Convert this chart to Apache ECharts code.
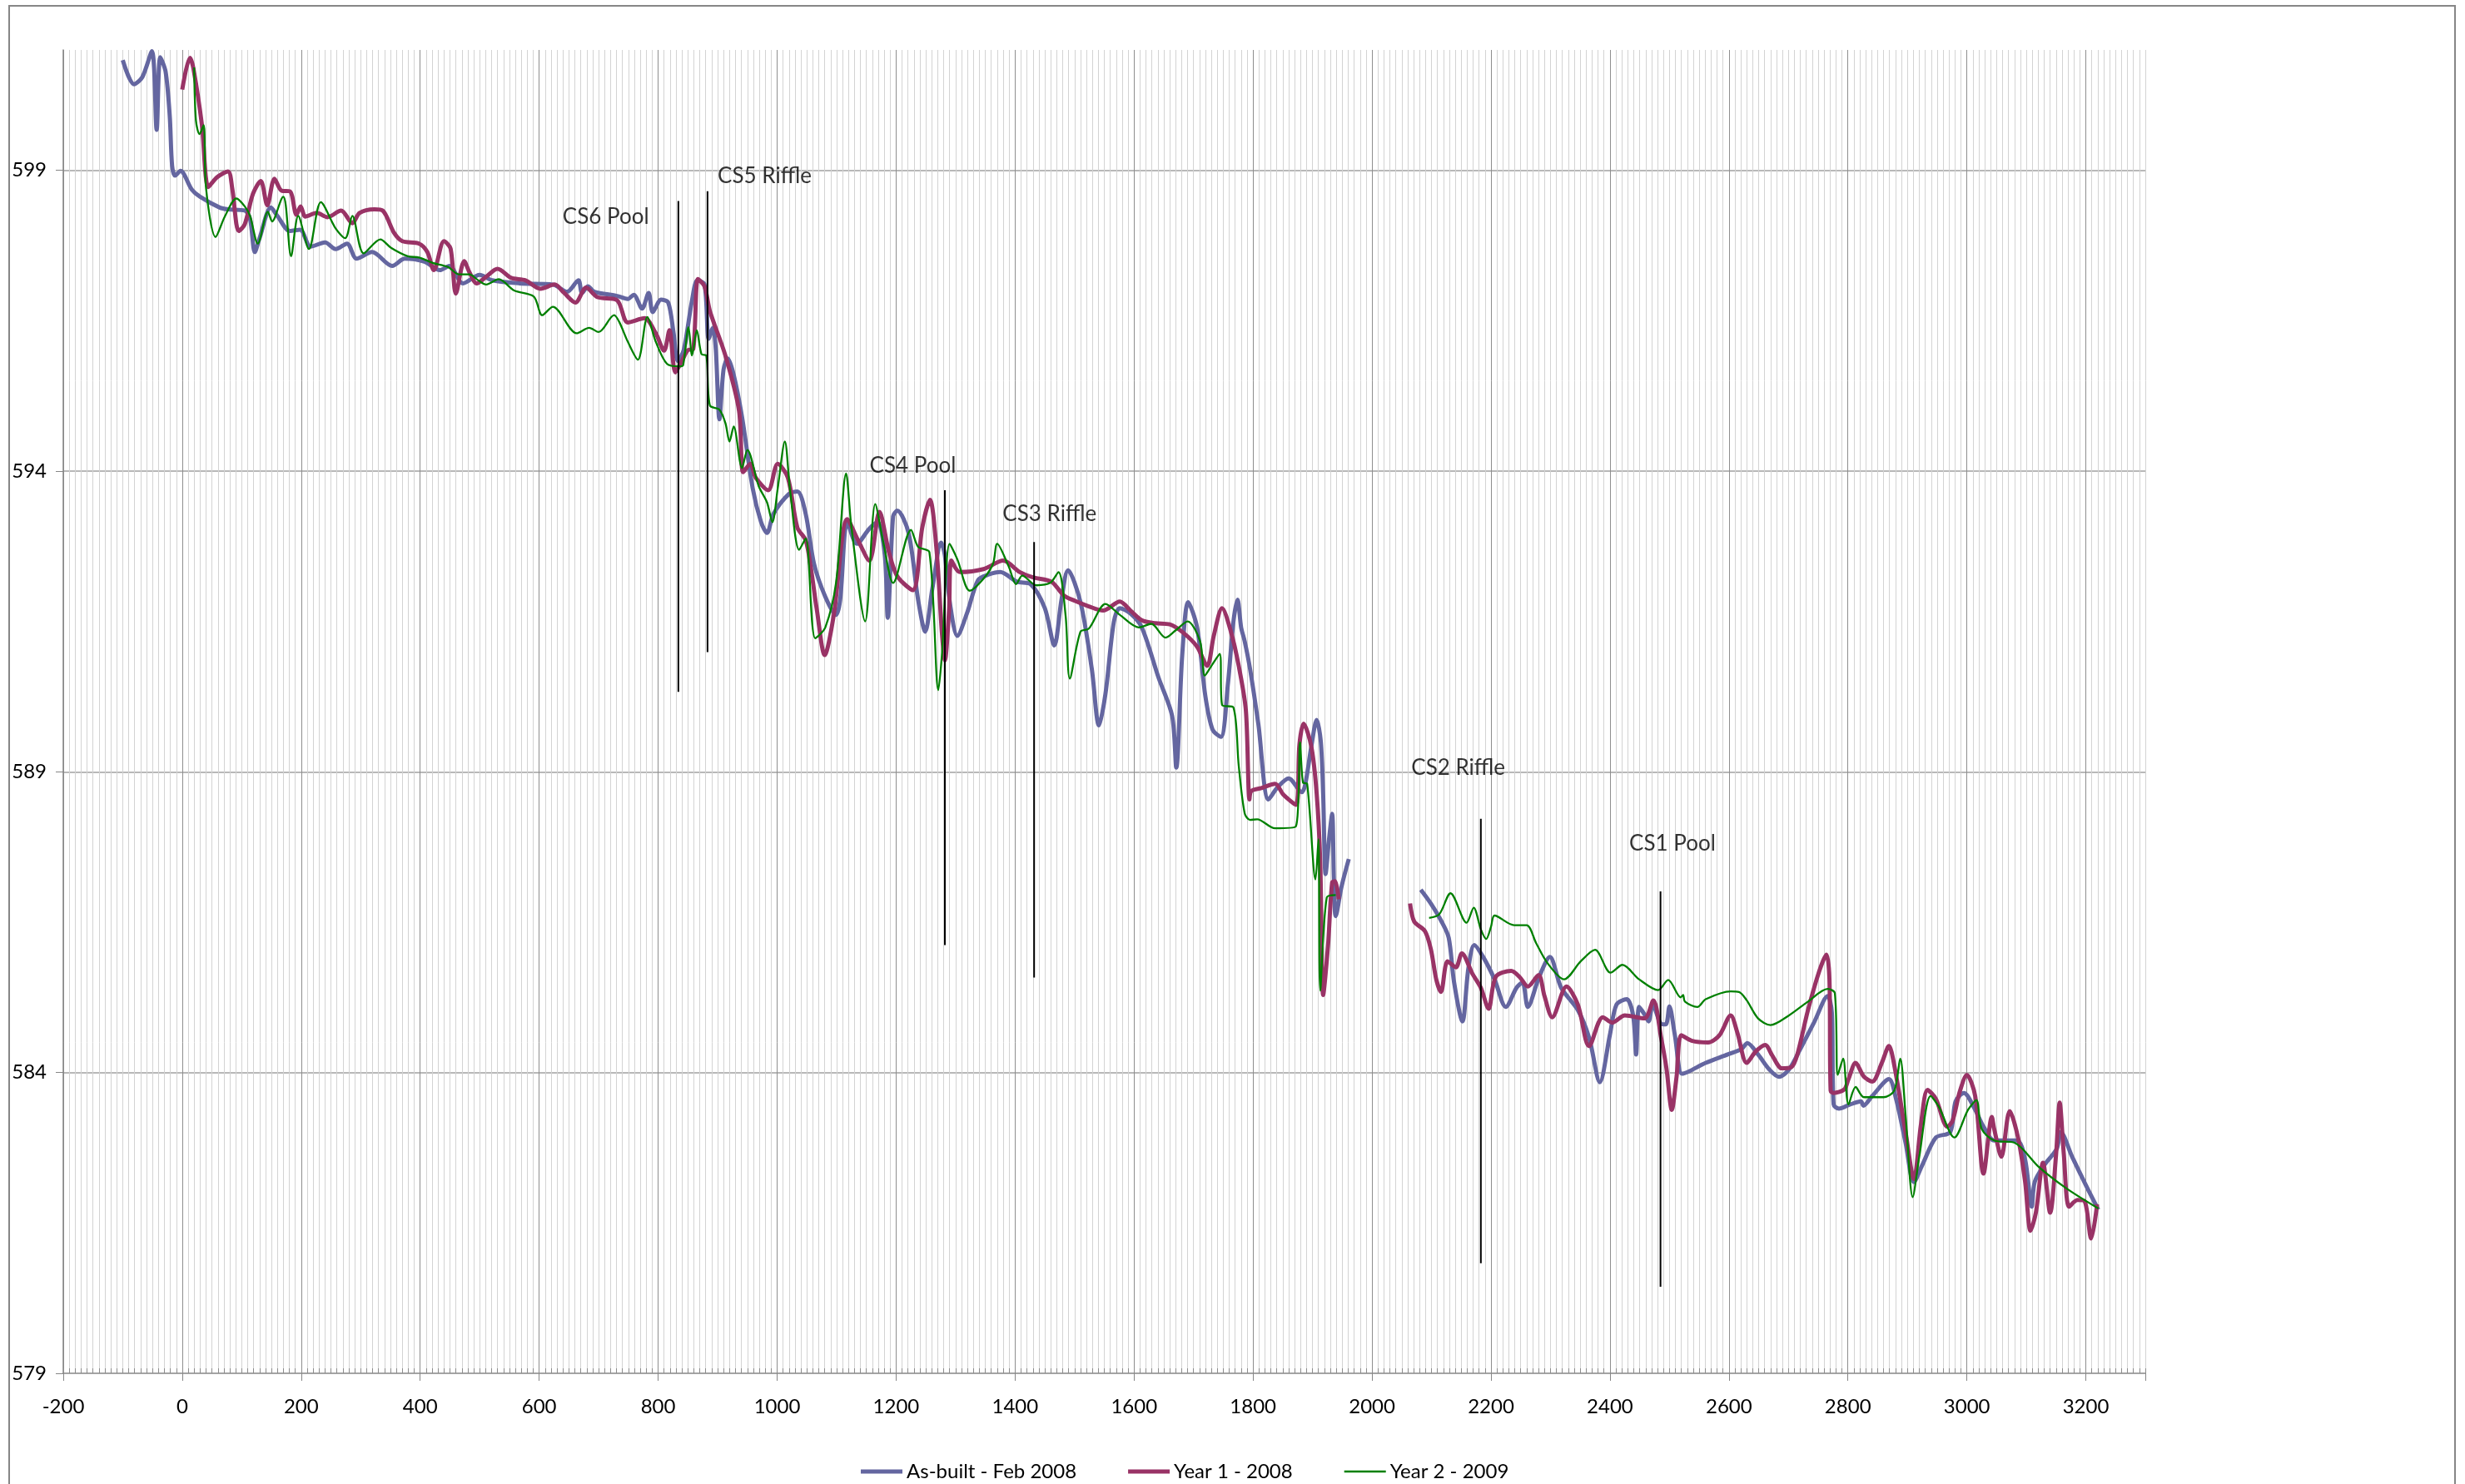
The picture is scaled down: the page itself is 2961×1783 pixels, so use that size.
<!DOCTYPE html>
<html>
<head>
    <meta charset="UTF-8">
    <title>Longitudinal profile</title>
    <script src="https://cdn.jsdelivr.net/npm/echarts@6/dist/echarts.min.js"></script>
    <style>
        html, body { margin: 0; padding: 0; background: #fff; }
        #main { width: 2961px; height: 1783px; }
    </style>
</head>
<body>
<div id="main"></div>
<script type="text/javascript">

    // station (ft) / elevation pairs, '-' marks the gap in the survey
    var asBuilt = [
        [-100,600.83],[-81,600.43],[-67,600.55],[-51,600.98],[-43,599.67],[-37,600.88],[-28,600.64],[-21,599.9],
        [-17,599.07],[-12,598.91],[-3,598.99],[16,598.68],[30,598.56],[63,598.38],[77,598.35],[105,598.33],
        [114,598.19],[122,597.64],[130,597.87],[149,598.38],[160,598.24],[181,597.99],[198,598.01],[216,597.73],
        [240,597.8],[258,597.69],[277,597.78],[293,597.53],[319,597.64],[353,597.41],[374,597.53],[407,597.48],
        [433,597.34],[449,597.41],[472,597.12],[500,597.26],[521,597.17],[567,597.12],[623,597.1],[647,596.98],
        [666,597.17],[672,596.96],[682,597.07],[693,596.98],[731,596.91],[749,596.86],[759,596.93],[773,596.7],
        [784,596.96],[791,596.64],[805,596.85],[817,596.8],[826,596.29],[833,595.83],[843,596.01],[857,596.84],
        [866,597.17],[878,597.1],[885,596.2],[892,596.38],[897,596.01],[903,594.86],[910,595.69],[917,595.87],
        [927,595.6],[941,594.9],[959,593.71],[973,593.15],[983,592.97],[994,593.29],[1020,593.62],[1034,593.66],
        [1048,593.29],[1062,592.46],[1081,591.91],[1099,591.61],[1106,591.86],[1118,593.15],[1134,592.79],
        [1155,593.04],[1169,593.15],[1181,592.6],[1186,591.56],[1195,593.25],[1202,593.34],[1221,592.97],
        [1237,591.86],[1249,591.33],[1261,592.05],[1276,592.81],[1282,592.6],[1291,591.77],[1303,591.26],
        [1319,591.63],[1338,592.19],[1356,592.28],[1375,592.32],[1403,592.16],[1426,592.12],[1450,591.72],
        [1466,591.1],[1478,591.86],[1489,592.35],[1510,591.82],[1529,590.71],[1541,589.77],[1552,590.3],
        [1566,591.49],[1576,591.72],[1594,591.63],[1613,591.4],[1641,590.57],[1664,589.93],[1671,589.07],
        [1681,590.94],[1691,591.82],[1706,591.4],[1720,590.25],[1732,589.7],[1746,589.58],[1758,590.48],
        [1767,591.49],[1774,591.86],[1780,591.4],[1786,591.17],[1795,590.71],[1809,589.79],[1826,588.54],
        [1842,588.75],[1860,588.89],[1882,588.66],[1888,588.8],[1898,589.42],[1907,589.86],[1914,589.5],
        [1918,588.6],[1922,587.3],[1928,587.9],[1933,588.3],[1936,587.2],[1939,586.6],[1949,587.1],[1961,587.55],
        [2020,'-'],
        [2082,587.04],[2099,586.81],[2117,586.51],[2129,586.24],[2138,585.5],[2152,584.85],[2162,585.73],
        [2172,586.12],[2187,585.92],[2206,585.55],[2225,585.09],[2243,585.41],[2253,585.5],[2262,585.09],
        [2281,585.59],[2299,585.92],[2318,585.41],[2346,585.04],[2365,584.58],[2383,583.84],[2400,584.63],
        [2411,585.13],[2428,585.22],[2439,584.95],[2444,584.3],[2449,585.09],[2458,584.97],[2465,584.85],
        [2472,585.13],[2486,584.81],[2494,584.8],[2500,585.1],[2509,584.63],[2521,583.98],[2533,584.02],
        [2561,584.16],[2598,584.3],[2621,584.39],[2631,584.49],[2649,584.3],[2668,584.05],[2684,583.93],
        [2701,584.05],[2720,584.39],[2743,584.83],[2766,585.27],[2773,585.0],[2776,583.47],[2785,583.4],
        [2804,583.47],[2822,583.52],[2826,583.45],[2841,583.61],[2869,583.89],[2881,583.56],[2897,582.83],
        [2911,582.18],[2925,582.46],[2948,582.92],[2972,583.01],[2981,583.52],[2995,583.66],[3014,583.38],
        [3028,583.1],[3046,582.87],[3084,582.87],[3098,582.55],[3109,581.77],[3114,582.18],[3130,582.46],
        [3151,582.73],[3158,583.01],[3177,582.6],[3200,582.13],[3221,581.72]
    ];

    var year1 = [
        [0,600.34],[13,600.87],[19,600.68],[33,599.76],[44,598.72],[58,598.88],[77,598.98],[84,598.7],
        [95,597.99],[105,598.1],[119,598.61],[132,598.82],[143,598.42],[155,598.86],[167,598.66],[181,598.65],
        [192,598.26],[199,598.4],[207,598.23],[226,598.29],[244,598.22],[267,598.33],[286,598.12],[298,598.29],
        [323,598.35],[337,598.33],[356,597.96],[370,597.82],[398,597.78],[412,597.64],[423,597.34],[440,597.82],
        [451,597.7],[460,596.95],[474,597.49],[483,597.3],[495,597.12],[511,597.23],[530,597.36],[553,597.21],
        [577,597.17],[602,597.03],[626,597.1],[642,596.96],[661,596.8],[679,597.05],[698,596.89],[731,596.84],
        [749,596.47],[777,596.54],[796,596.29],[810,596.0],[819,596.34],[829,595.64],[840,595.83],[850,596.01],
        [859,596.03],[867,597.19],[878,597.07],[887,596.66],[913,595.92],[936,595.0],[943,593.98],[955,594.12],
        [964,593.89],[985,593.68],[1001,594.12],[1018,593.89],[1034,593.06],[1048,592.85],[1057,592.37],
        [1067,591.68],[1080,590.94],[1095,591.59],[1118,593.2],[1137,592.83],[1155,592.51],[1172,593.32],
        [1188,592.65],[1202,592.25],[1228,592.02],[1244,593.06],[1257,593.52],[1268,592.69],[1277,591.31],
        [1282,590.85],[1289,591.68],[1293,592.51],[1307,592.32],[1347,592.37],[1380,592.51],[1408,592.32],
        [1431,592.23],[1461,592.16],[1482,591.93],[1501,591.84],[1524,591.75],[1548,591.68],[1576,591.83],
        [1594,591.68],[1613,591.52],[1636,591.47],[1660,591.45],[1683,591.31],[1706,591.08],[1723,590.76],
        [1734,591.26],[1748,591.72],[1762,591.36],[1776,590.76],[1788,590.02],[1794,588.54],[1797,588.68],
        [1814,588.73],[1837,588.8],[1851,588.62],[1872,588.45],[1878,589.45],[1885,589.8],[1898,589.42],
        [1907,588.64],[1913,587.5],[1918,585.29],[1926,586.1],[1933,587.16],[1938,587.18],[1944,586.88],
        [2000,'-'],
        [2064,586.81],[2071,586.51],[2089,586.35],[2099,586.05],[2108,585.55],[2116,585.34],[2127,585.85],
        [2141,585.75],[2151,585.98],[2169,585.64],[2183,585.41],[2196,585.06],[2208,585.59],[2234,585.69],
        [2248,585.59],[2262,585.43],[2280,585.62],[2290,585.27],[2303,584.92],[2327,585.43],[2346,585.13],
        [2365,584.44],[2388,584.92],[2404,584.83],[2425,584.95],[2458,584.9],[2473,585.2],[2486,584.58],
        [2495,584.07],[2504,583.38],[2512,583.93],[2520,584.62],[2537,584.53],[2565,584.5],[2584,584.62],
        [2603,584.95],[2614,584.67],[2630,584.16],[2645,584.35],[2661,584.46],[2673,584.28],[2689,584.07],
        [2705,584.09],[2715,584.3],[2733,585.04],[2752,585.69],[2764,585.96],[2769,585.55],[2771,583.7],
        [2776,583.66],[2794,583.72],[2801,583.89],[2813,584.16],[2827,583.93],[2841,583.85],[2857,584.16],
        [2869,584.44],[2878,584.12],[2897,583.01],[2911,582.23],[2923,583.15],[2934,583.71],[2948,583.56],
        [2967,583.1],[2976,583.2],[2988,583.68],[3000,583.96],[3014,583.61],[3028,582.32],[3042,583.26],
        [3046,583.06],[3058,582.6],[3072,583.36],[3086,582.92],[3098,582.18],[3107,581.37],[3116,581.67],
        [3128,582.5],[3140,581.67],[3150,582.64],[3156,583.5],[3163,582.64],[3172,581.77],[3186,581.88],
        [3198,581.86],[3209,581.24],[3219,581.81]
    ];

    var year2 = [
        [20,600.71],[23,599.83],[29,599.6],[36,599.75],[40,598.7],[56,597.89],[72,598.24],[91,598.53],
        [105,598.4],[114,598.24],[127,597.78],[144,598.31],[151,598.15],[170,598.56],[174,598.42],[183,597.57],
        [195,598.24],[213,597.69],[233,598.47],[258,598.03],[274,597.87],[286,598.24],[305,597.62],[333,597.85],
        [351,597.71],[379,597.57],[398,597.55],[421,597.46],[447,597.39],[465,597.27],[483,597.27],[495,597.19],
        [511,597.1],[532,597.19],[558,597.0],[591,596.9],[605,596.59],[623,596.73],[663,596.29],[684,596.38],
        [700,596.31],[726,596.59],[735,596.47],[749,596.15],[766,595.85],[782,596.56],[796,596.15],[815,595.78],
        [836,595.74],[842,595.76],[851,596.39],[857,595.92],[865,596.34],[873,595.94],[881,595.92],[887,595.09],
        [903,595.02],[913,594.8],[920,594.49],[927,594.74],[941,594.05],[950,594.35],[969,593.75],[983,593.48],
        [992,593.15],[1001,593.71],[1013,594.49],[1022,593.66],[1037,592.69],[1048,592.88],[1064,591.22],
        [1081,591.4],[1099,592.14],[1116,593.96],[1125,593.06],[1148,591.5],[1165,593.45],[1179,592.79],
        [1195,592.14],[1225,593.02],[1237,592.74],[1256,592.65],[1271,590.36],[1277,590.94],[1290,592.79],
        [1303,592.53],[1324,592.01],[1347,592.21],[1363,592.46],[1370,592.79],[1389,592.42],[1402,592.12],
        [1412,592.26],[1436,592.1],[1459,592.14],[1473,592.32],[1485,591.59],[1492,590.55],[1510,591.33],
        [1524,591.38],[1552,591.79],[1576,591.61],[1608,591.4],[1629,591.46],[1653,591.23],[1671,591.36],
        [1690,591.5],[1711,591.17],[1719,590.6],[1730,590.76],[1744,590.96],[1748,590.11],[1767,590.07],
        [1776,589.1],[1786,588.31],[1795,588.2],[1807,588.21],[1837,588.06],[1872,588.09],[1879,589.49],
        [1884,588.82],[1891,588.8],[1905,587.21],[1910,587.88],[1913,585.36],[1924,586.91],[1939,586.95],
        [2000,'-'],
        [2096,586.57],[2113,586.63],[2132,586.98],[2159,586.49],[2171,586.74],[2183,586.38],[2192,586.22],
        [2200,586.42],[2206,586.61],[2239,586.45],[2260,586.45],[2276,586.15],[2295,585.82],[2323,585.55],
        [2351,585.85],[2375,586.04],[2401,585.66],[2421,585.79],[2449,585.55],[2481,585.37],[2498,585.54],
        [2519,585.25],[2523,585.29],[2526,585.18],[2547,585.09],[2561,585.22],[2603,585.35],[2617,585.34],
        [2630,585.2],[2649,584.9],[2670,584.79],[2701,584.95],[2733,585.18],[2766,585.39],[2778,585.32],
        [2783,583.96],[2792,584.23],[2801,583.47],[2813,583.76],[2827,583.59],[2860,583.59],[2878,583.7],
        [2888,584.23],[2897,583.29],[2909,581.93],[2920,582.6],[2939,583.61],[2953,583.43],[2979,582.92],
        [3002,583.38],[3016,583.54],[3025,583.06],[3046,582.87],[3081,582.83],[3121,582.43],[3168,582.07],
        [3221,581.74]
    ];

    // cross-section markers
    var markerNames = ['CS6 Pool', 'CS5 Riffle', 'CS4 Pool', 'CS3 Riffle', 'CS2 Riffle', 'CS1 Pool'];
    var markerX = [834, 883, 1282, 1432, 2183, 2485];
    var markerTop = [598.49, 598.65, 593.68, 592.82, 588.22, 587.01];
    var markerBottom = [590.33, 590.99, 586.12, 585.58, 580.83, 580.44];
    var labelX = [712, 979, 1228, 1458, 2145, 2505];
    var labelY = [598.23, 598.9, 594.09, 593.28, 589.06, 587.8];

    var seriesNames = ['As-built - Feb 2008', 'Year 1 - 2008', 'Year 2 - 2009'];

    var FONT = 'Lato';
    var myChart = echarts.init(document.getElementById('main'), null, {renderer: 'canvas'});

    var series = [
        {
            name: seriesNames[0], type: 'line', xAxisIndex: 1, data: asBuilt,
            smooth: 0.3, symbol: 'none', color: '#6466a0',
            lineStyle: {width: 5, color: '#6466a0'}
        },
        {
            name: seriesNames[1], type: 'line', xAxisIndex: 1, data: year1,
            smooth: 0.3, symbol: 'none', color: '#993366',
            lineStyle: {width: 5, color: '#993366'}
        },
        {
            name: seriesNames[2], type: 'line', xAxisIndex: 1, data: year2,
            smooth: 0.3, symbol: 'none', color: '#008000',
            lineStyle: {width: 2.3, color: '#008000'}
        }
    ];

    // vertical marker lines
    markerX.forEach(function (x, i) {
        series.push({
            name: 'mk' + i, type: 'line', xAxisIndex: 1,
            data: [[x, markerTop[i]], [x, markerBottom[i]]],
            symbol: 'none', silent: true, z: 5,
            lineStyle: {width: 2, color: '#000'}
        });
    });

    // marker labels
    series.push({
        name: 'labels', type: 'scatter', xAxisIndex: 1, symbolSize: 0, silent: true, z: 6,
        data: markerNames.map(function (n, i) { return {name: n, value: [labelX[i], labelY[i]]}; }),
        label: {
            show: true, position: 'inside', color: '#000', fontSize: 26, fontFamily: FONT,
            formatter: function (p) { return p.name; }
        }
    });

    // legend swatches: plain bars, thick for the two 2008 surveys, thin for 2009
    var thickBar = 'path://M0,0H50V5H0Z';
    var thinBar = 'path://M0,0H50V2.4H0Z';

    var option = {
        animation: false,
        backgroundColor: '#fff',
        graphic: [{
            type: 'rect', z: -10, silent: true,
            shape: {x: 11, y: 7, width: 2938, height: 1820},
            style: {fill: 'none', stroke: '#868686', lineWidth: 2}
        }],
        grid: {left: 76, right: 384, top: 60, bottom: 133, containLabel: false},
        legend: {
            data: [
                {name: seriesNames[0], icon: thickBar},
                {name: seriesNames[1], icon: thickBar},
                {name: seriesNames[2], icon: thinBar}
            ],
            left: 1029, top: 1751,
            itemWidth: 50, itemHeight: 5, itemGap: 62,
            textStyle: {fontSize: 24, color: '#000', fontFamily: FONT}
        },
        xAxis: [
            {
                // minor grid every 10 ft
                type: 'value', min: -200, max: 3300, interval: 10, position: 'bottom',
                axisLine: {show: false},
                axisLabel: {show: false},
                axisTick: {show: true, inside: true, length: 6, lineStyle: {color: '#8c8c8c'}},
                splitLine: {show: true, lineStyle: {color: '#d3d3d3', width: 1}}
            },
            {
                type: 'value', min: -200, max: 3300, interval: 200, position: 'bottom',
                axisLine: {show: true, onZero: false, lineStyle: {color: '#868686', width: 1.5}},
                axisTick: {show: true, length: 9, lineStyle: {color: '#868686'}},
                axisLabel: {
                    margin: 28, fontSize: 24, color: '#000', fontFamily: FONT,
                    formatter: function (v) { return v % 200 === 0 ? String(v) : ''; }
                },
                splitLine: {show: true, showMaxLine: false, lineStyle: {color: '#8e8e8e', width: 1}}
            }
        ],
        yAxis: {
            type: 'value', min: 579, max: 601, interval: 5,
            axisLine: {show: true, onZero: false, lineStyle: {color: '#868686', width: 1.5}},
            axisTick: {show: true, length: 9, lineStyle: {color: '#868686'}},
            axisLabel: {showMaxLabel: false, margin: 20, fontSize: 24, color: '#000', fontFamily: FONT},
            splitLine: {show: true, showMaxLine: false, showMinLine: false, lineStyle: {color: '#a0a0a0', width: 1.5}}
        },
        series: series
    };

    myChart.setOption(option);
</script>
</body>
</html>
